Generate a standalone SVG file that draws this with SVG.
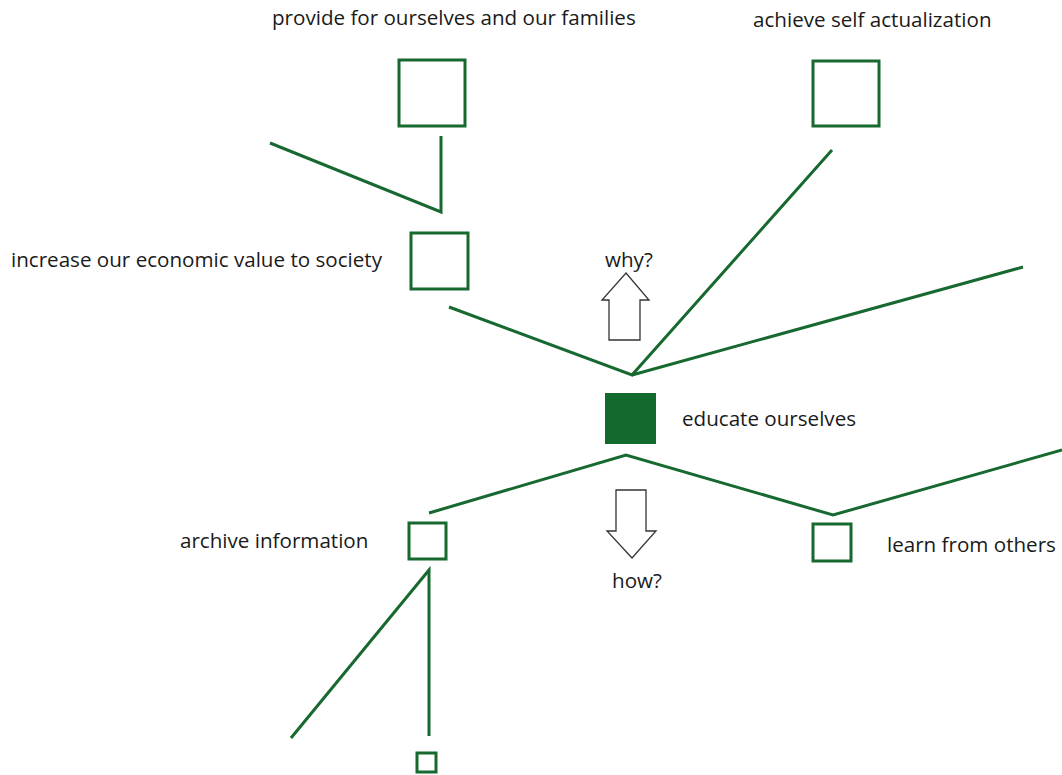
<svg xmlns="http://www.w3.org/2000/svg" width="1062" height="775" viewBox="0 0 1062 775">
<style>
.bg{fill:#ffffff}
.node{fill:#ffffff;stroke:#17692f;stroke-width:3}
.filled{fill:#136a2f;stroke:none}
.conn{fill:none;stroke:#17692f;stroke-width:3;stroke-linecap:butt;stroke-linejoin:miter}
.arrow{fill:#ffffff;stroke:#333333;stroke-width:1.3}
text{font-family:"Open Sans","Liberation Sans",sans-serif;font-size:20.6px;fill:#1a1a1a}
</style>
<rect class="bg" x="0" y="0" width="1062" height="775"/>
<g id="connectors">
<polyline class="conn" points="270,143 441,212 441,136"/>
<polyline class="conn" points="449,307 632,375 832,150"/>
<polyline class="conn" points="632,375 1023,267"/>
<polyline class="conn" points="429,513 626,455 833,515 1062,450"/>
<polyline class="conn" points="291,738 429,570 429,736"/>
</g>
<g id="node-provide">
<rect class="node" x="399" y="60" width="66" height="66"/>
<text x="272" y="25">provide for ourselves and our families</text>
</g>
<g id="node-actualization">
<rect class="node" x="813" y="61" width="66" height="65"/>
<text x="753" y="27">achieve self actualization</text>
</g>
<g id="node-increase">
<rect class="node" x="411" y="233" width="57" height="56"/>
<text x="11" y="267">increase our economic value to society</text>
</g>
<g id="node-educate">
<rect class="filled" x="605" y="393" width="51" height="51"/>
<text x="682" y="426">educate ourselves</text>
</g>
<g id="node-archive">
<rect class="node" x="409" y="523" width="37" height="36"/>
<text x="180" y="548">archive information</text>
</g>
<g id="node-learn">
<rect class="node" x="813" y="524" width="38" height="37"/>
<text x="887" y="552">learn from others</text>
</g>
<g id="node-small">
<rect class="node" x="417" y="753" width="19" height="19"/>
</g>
<g id="why">
<polygon class="arrow" points="626,273 649,300 640,300 640,340 609,340 609,300 602,300"/>
<text x="605" y="267">why?</text>
</g>
<g id="how">
<polygon class="arrow" points="616,490 646,490 646,531 656,531 632,558 607,531 616,531"/>
<text x="612" y="588">how?</text>
</g>
</svg>
